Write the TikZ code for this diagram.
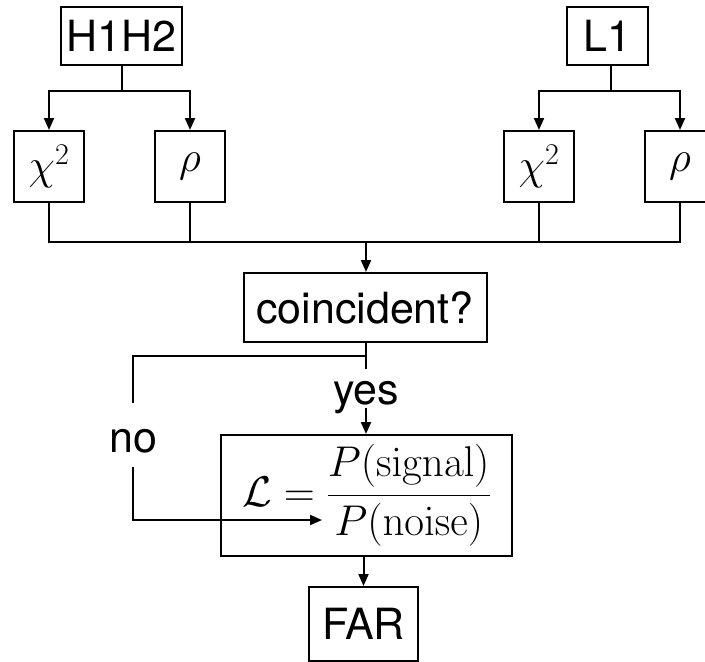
\documentclass[tikz,border=0pt]{standalone}
\usepackage{fix-cm}
\usepackage[no-math]{fontspec}
\setmainfont{TeX Gyre Heros}
\usetikzlibrary{arrows.meta}

\begin{document}
\begin{tikzpicture}[x=1pt,y=-1pt,
  every node/.style={font=\fontsize{43}{50}\selectfont},
  box/.style={draw, line width=2pt, inner sep=0pt, align=center},
  small/.style={box, minimum width=70pt, minimum height=71pt},
  lbl/.style={inner sep=0pt},
  link/.style={line width=2pt},
  arr/.style={link, -{Triangle[length=12pt,width=10pt]}}]
\useasboundingbox (0,0) rectangle (705,662);

% detector boxes
\node[box, minimum width=121pt, minimum height=58pt] (hh) at (121.5,36) {H1H2};
\node[box, minimum width=81pt, minimum height=58pt] (ll) at (607.5,36) {L1};

% per-detector statistics
\node[small] (chiA) at (49,166.5) {$\chi^2$};
\node[small] (rhoA) at (190,166.5) {$\rho$};
\node[small] (chiB) at (539,166.5) {$\chi^2$};
\node[small] (rhoB) at (680,166.5) {$\rho$};

% coincidence test, likelihood and false alarm rate
\node[box, minimum width=243pt, minimum height=69pt] (coinc) at (365,307.5) {coincident?};
\node[box, minimum width=291pt, minimum height=121pt] (like) at (366.5,495.5)
  {$\displaystyle\mathcal{L}=\frac{P(\mathrm{signal})}{P(\mathrm{noise})}$};
\node[box, minimum width=109pt, minimum height=74pt] (far) at (363.5,624) {FAR};

% branch labels
\node[lbl, text height=49pt, text depth=15pt, anchor=base] (no) at (133,452) {no};
\node[lbl, text height=35pt, text depth=4pt, anchor=base] (yes) at (366,404) {yes};

% fan-out from each detector
\coordinate (hhj) at (121.5,91);
\coordinate (llj) at (611,91);
\draw[link] (hh.south) -- (hhj);
\draw[arr] (hhj) -| (chiA.north);
\draw[arr] (hhj) -| (rhoA.north);
\draw[link] (ll.south -| llj) -- (llj);
\draw[arr] (llj) -| (chiB.north);
\draw[arr] (llj) -| (rhoB.north);

% collecting bus
\coordinate (bus) at (366,242);
\draw[link] (chiA.south) |- (rhoB.south |- bus) -- (rhoB.south);
\draw[link] (rhoA.south) -- (rhoA.south |- bus);
\draw[link] (chiB.south) -- (chiB.south |- bus);
\draw[arr] (bus) -- (bus |- coinc.north);

% yes / no branches
\coordinate (split) at (366,356);
\coordinate (notip) at (322,520);
\draw[link] (coinc.south -| split) -- (yes.north);
\draw[link] (split) -| (no.north);
\draw[arr] (yes.south) -- (like.north -| yes.south);
\draw[arr] (no.south) |- (notip);
\draw[arr] (like.south -| far.north) -- (far.north);
\end{tikzpicture}
\end{document}
